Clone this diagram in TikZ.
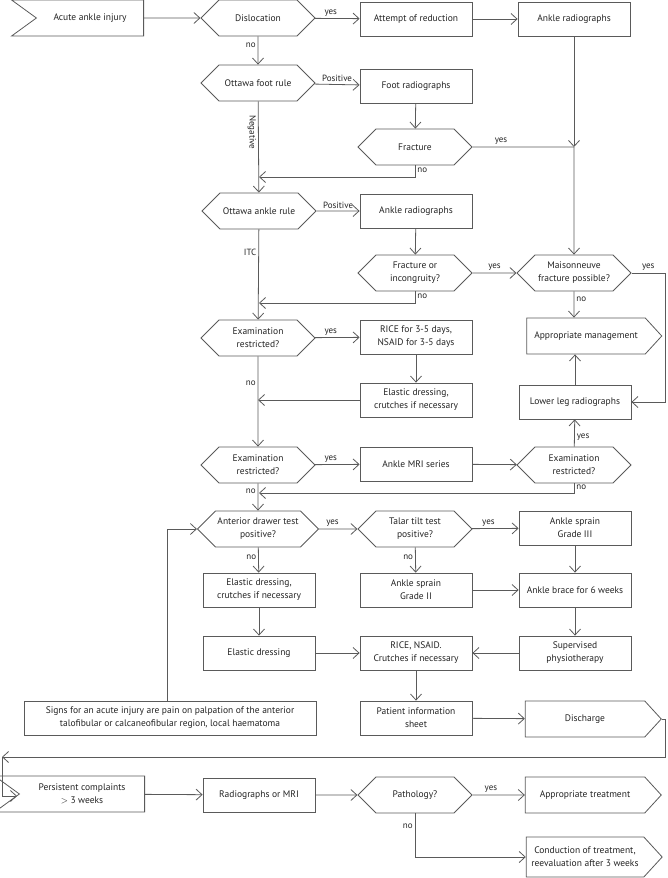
\documentclass[tikz,border=0pt]{standalone}
\usepackage{fontspec}
\setmainfont{PT Sans}
\usetikzlibrary{arrows.meta,shapes.symbols}
\definecolor{linegray}{RGB}{90,90,90}
\definecolor{textgray}{RGB}{35,35,35}
\tikzset{
	box/.style={draw=linegray, line width=0.8pt, minimum width=112pt, minimum height=34pt, align=center, inner sep=2pt, text=textgray, font=\fontsize{9.5}{13}\selectfont},
	decision/.style={box, shape=signal, signal to=west and east, signal pointer angle=90, minimum width=114pt, minimum height=36pt},
	startbox/.style={box, shape=signal, signal to=nowhere, signal from=west, signal pointer angle=72, minimum height=36pt},
	endbox/.style={box, shape=signal, signal to=east, signal pointer angle=95, minimum height=36pt},
	arr/.style={draw=linegray, line width=0.8pt, -{Straight Barb[length=6pt,width=11pt]}},
	wire/.style={draw=linegray, line width=0.8pt},
	lbl/.style={text=textgray, inner sep=2pt, font=\fontsize{9}{11}\selectfont},
}

\begin{document}
\begin{tikzpicture}[x=1pt, y=-1pt]
			%%%%% START %%%%%
			\useasboundingbox (0,0) rectangle (667,878);
			
			\node[startbox, minimum width=132pt] (start) at (90,18) {Acute ankle injury};
			\node[decision] (disl) at (258,18) {Dislocation};
			\node[box] (reduc) at (416,19) {Attempt of reduction};
			\node[box] (ankrad1) at (574,19) {Ankle radiographs};
			
			\node[decision] (footrule) at (258,83) {Ottawa foot rule};
			\node[box] (footrad) at (416,86) {Foot radiographs};
			\node[decision] (fract) at (415,147) {Fracture};
			
			\node[decision] (anklerule) at (259,211) {Ottawa ankle rule};
			\node[box] (ankrad2) at (416,211) {Ankle radiographs};
			\node[decision] (fractinc) at (415,273) {Fracture or\\incongruity?};
			\node[decision] (maison) at (574,273) {Maisonneuve\\fracture possible?};
			\node[endbox, minimum width=135pt] (approman) at (586,336) {Appropriate management};
			
			\node[decision] (exam1) at (258,338) {Examination\\restricted?};
			\node[box] (rice1) at (416,337) {RICE for 3-5 days,\\NSAID for 3-5 days};
			\node[box] (elastic1) at (416,400) {Elastic dressing,\\crutches if necessary};
			\node[box] (lowleg) at (575,402) {Lower leg radiographs};
			
			\node[decision] (exam2) at (258,465) {Examination\\restricted?};
			\node[box] (mri) at (416,464) {Ankle MRI series};
			\node[decision] (exam3) at (574,465) {Examination\\restricted?};
			
			\node[decision] (anterior) at (258,529) {Anterior drawer test\\positive?};
			\node[decision] (talar) at (415,529) {Talar tilt test\\positive?};
			\node[box] (sprain3) at (575,528) {Ankle sprain\\Grade III};
			
			\node[box] (elastic2) at (259,590) {Elastic dressing,\\crutches if necessary};
			\node[box] (sprain2) at (416,590) {Ankle sprain\\Grade II};
			\node[box] (brace) at (575,590) {Ankle brace for 6 weeks};
			
			\node[box] (elastic3) at (259,653) {Elastic dressing};
			\node[box] (rice2) at (416,653) {RICE, NSAID.\\Crutches if necessary};
			\node[box] (physio) at (575,653) {Supervised\\physiotherapy};
			
			\node[box, minimum width=292pt] (signs) at (170,718) {Signs for an acute injury are pain on palpation of the anterior\\talofibular or calcaneofibular region, local haematoma};
			\node[box] (info) at (416,718) {Patient information\\sheet};
			\node[endbox, minimum width=136pt] (discharge) at (585,719) {Discharge};
			
			\node[startbox, minimum width=150pt] (persist) at (82,794) {Persistent complaints\\ $>$\ 3 weeks};
			\node[box] (radmri) at (259,795) {Radiographs or MRI};
			\node[decision] (patho) at (415,795) {Pathology?};
			\node[endbox, minimum width=136pt] (approtreat) at (585,795) {Appropriate treatment};
			\node[endbox, minimum width=136pt, minimum height=40pt] (conduct) at (585,857) {Conduction of treatment,\\reevaluation after 3 weeks};
			
			\coordinate (j1) at (574,147);
			\coordinate (j2) at (259,177);
			\coordinate (j3) at (259,303);
			\coordinate (j4) at (665,273);
			\coordinate (j5) at (259,493);
			\coordinate (j7) at (665,757);
			\coordinate (j8) at (2,757);
			\coordinate (j9) at (17,796);
			
			\draw[arr] (start) -- (disl);
			\draw[arr] (disl) -- node[lbl, above, pos=0.35] {yes} (reduc);
			\draw[arr] (reduc) -- (ankrad1);
			\draw[arr] (ankrad1) -- (j1);
			\draw[arr] (j1) -- (maison);
			\draw[wire] (fract) -- node[lbl, above, pos=0.28] {yes} (j1);
			
			\draw[arr] (disl) -- node[lbl, left, pos=0.3] {no} (footrule);
			\draw[arr] (footrule) -- node[lbl, above] {Positive} (footrad);
			\draw[arr] (footrad) -- (fract);
			\draw[arr] (fract.south) |- node[lbl, right, pos=0.2] {no} (j2);
			\draw[arr] (footrule) -- node[lbl, rotate=-90, anchor=north, pos=0.34] {Negative} (anklerule);
			
			\draw[arr] (anklerule) -- node[lbl, above] {Positive} (ankrad2);
			\draw[arr] (ankrad2) -- (fractinc);
			\draw[arr] (fractinc) -- node[lbl, above] {yes} (maison);
			\draw[arr] (fractinc.south) |- node[lbl, right, pos=0.2] {no} (j3);
			\draw[arr] (anklerule) -- node[lbl, left, pos=0.25] {ITC} (exam1);
			
			\draw[arr] (maison) -- node[lbl, right, pos=0.3] {no} (maison |- approman.north);
			\draw[arr] (maison.east) -- node[lbl, above] {yes} (j4) |- (lowleg.east);
			\draw[arr] (lowleg.north) -- (lowleg.north |- approman.south);
			
			\draw[arr] (exam1) -- node[lbl, above, pos=0.35] {yes} (rice1);
			\draw[arr] (rice1) -- (elastic1);
			\draw[arr] (elastic1) -- (elastic1 -| exam1);
			\draw[arr] (exam1) -- node[lbl, left, pos=0.3] {no} (exam2);
			
			\draw[arr] (exam2) -- node[lbl, above, pos=0.35] {yes} (mri);
			\draw[arr] (mri) -- (exam3);
			\draw[arr] (exam3) -- node[lbl, right, pos=0.35] {yes} (lowleg);
			\draw[arr] (exam3.south) |- node[lbl, right, pos=0.2] {no} (j5);
			\draw[arr] (exam2) -- node[lbl, left, pos=0.3] {no} (anterior);
			
			\draw[arr] (anterior) -- node[lbl, above, pos=0.35] {yes} (talar);
			\draw[arr] (talar) -- node[lbl, above, pos=0.35] {yes} (sprain3);
			\draw[arr] (anterior) -- node[lbl, left, pos=0.4] {no} (elastic2);
			\draw[arr] (talar) -- node[lbl, left, pos=0.4] {no} (sprain2);
			
			\draw[arr] (elastic2) -- (elastic3);
			\draw[arr] (elastic3) -- (rice2);
			\draw[arr] (sprain2) -- (brace);
			\draw[arr] (sprain3) -- (brace);
			\draw[arr] (brace) -- (physio);
			\draw[arr] (physio) -- (rice2);
			\draw[arr] (rice2) -- (info);
			\draw[arr] (info) -- (discharge);
			\draw[arr] ([xshift=-3pt]signs.north) |- (anterior.west);
			
			\draw[arr] (discharge.east) -| (j7) -- (j8);
			\draw[arr] (j8) |- (j9);
			\draw[arr] (persist) -- (radmri);
			\draw[arr] (radmri) -- (patho);
			\draw[arr] (patho) -- node[lbl, above, pos=0.35] {yes} (approtreat);
			\draw[arr] (patho.south) |- node[lbl, left, pos=0.15] {no} (conduct.west);
			
			%%%%% END %%%%%
\end{tikzpicture}
\end{document}
